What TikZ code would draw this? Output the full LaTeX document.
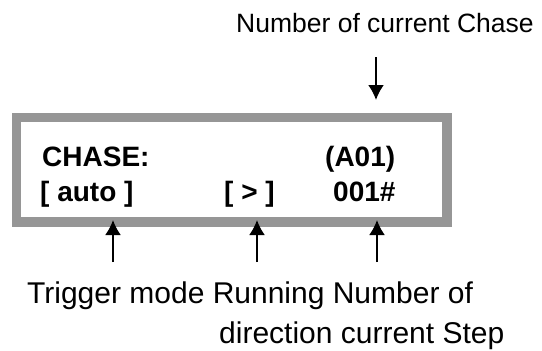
\documentclass[tikz,border=0pt]{standalone}
\usepackage{fontspec}
\setmainfont{Liberation Sans}
\usepackage{xcolor}
\usetikzlibrary{arrows.meta}

\definecolor{framegray}{HTML}{969696}

\tikzset{
  lcdtext/.style={anchor=base west, inner sep=0pt, font=\fontsize{28}{30}\selectfont\bfseries},
  labeltext/.style={anchor=base west, inner sep=0pt, font=\fontsize{30}{34}\selectfont},
  pointer/.style={line width=2pt, -{Latex[length=15pt,width=16pt]}}
}

\begin{document}
\begin{tikzpicture}[x=1pt, y=-1pt]
  	\useasboundingbox (0,0) rectangle (542,351);
  	\draw[color=framegray, line width=9.5pt] (16.5,117.5) rectangle (447,222);
  	\node[labeltext, font=\fontsize{26.5}{30}\selectfont] (chasetitle) at (236,32) {Number of current Chase};
  	\node[lcdtext] (chase) at (42,166) {CHASE:};
  	\node[lcdtext] (chaseno) at (325,166) {(A01)};
  	\node[lcdtext] (auto) at (40,201) {[ auto ]};
  	\node[lcdtext] (dir) at (224,201) {[ > ]};
  	\node[lcdtext] (stepno) at (333,201) {001\#};
  	\node[labeltext] (labelone) at (27,303) {Trigger mode Running Number of};
  	\node[labeltext] (labeltwo) at (219,343) {direction current Step};
  	\coordinate (chasetail) at (376,57);
  	\coordinate (chasetip) at (376,100);
  	\coordinate (trigtail) at (113,262);
  	\coordinate (trigtip) at (113,220);
  	\coordinate (dirtail) at (257,262);
  	\coordinate (dirtip) at (257,220);
  	\coordinate (steptail) at (377,262);
  	\coordinate (steptip) at (377,220);
  	\draw[pointer] (chasetail) -- (chasetip);
  	\draw[pointer] (trigtail) -- (trigtip);
  	\draw[pointer] (dirtail) -- (dirtip);
  	\draw[pointer] (steptail) -- (steptip);
\end{tikzpicture}
\end{document}
